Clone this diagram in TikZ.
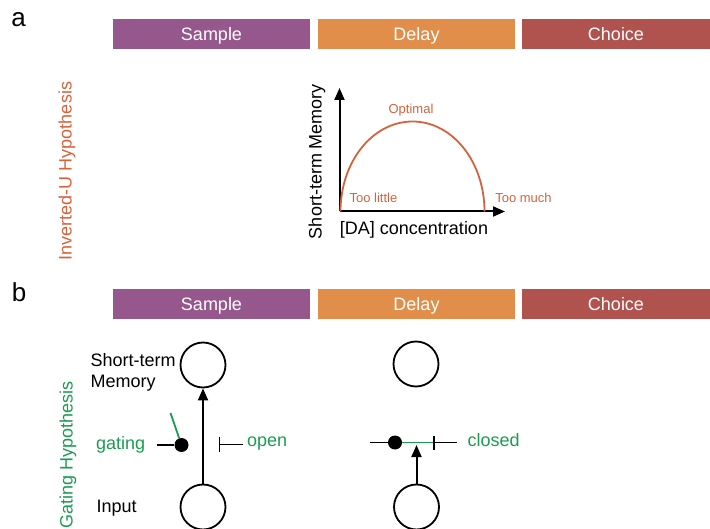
\documentclass[tikz,border=0pt]{standalone}
\usepackage{fontspec}
\setmainfont{Liberation Sans}
\usetikzlibrary{arrows.meta}
\definecolor{sampleC}{RGB}{150,88,140}
\definecolor{delayC}{RGB}{224,142,74}
\definecolor{choiceC}{RGB}{176,82,78}
\definecolor{curveC}{RGB}{214,98,60}
\definecolor{gateC}{RGB}{26,156,80}
\begin{document}
\begin{tikzpicture}[x=1pt,y=-1pt,
  phasebar/.style={fill=#1,draw=none,minimum width=197pt,minimum height=30pt,inner sep=0pt,text height=14pt,text depth=0pt,text=white,font=\fontsize{18}{20}\selectfont},
  lbl/.style={inner sep=0pt,font=\fontsize{18}{21.5}\selectfont},
  smalllbl/.style={inner sep=0pt,text=curveC,font=\fontsize{13}{15}\selectfont},
  panel/.style={inner sep=0pt,font=\fontsize{26}{28}\selectfont},
  axis/.style={line width=2pt,-{Triangle[length=12pt,width=10pt]}},
  arr/.style={line width=2pt,-{Triangle[length=12pt,width=10pt]}},
  neuron/.style={circle,draw=black,line width=1.8pt,minimum size=45pt,inner sep=0pt},
  gatedot/.style={circle,fill=black,minimum size=14pt,inner sep=0pt},
  blk/.style={line width=1.8pt},
  grn/.style={line width=1.8pt,draw=gateC}]
\useasboundingbox (0,0) rectangle (710,529);
% panel labels
\node[panel] (pa) at (18.5,19.5) {a};
\node[panel] (pb) at (19,292.5) {b};
% phase bars, row a
\node[phasebar=sampleC] (sa) at (211.5,34) {Sample};
\node[phasebar=delayC] (da) at (416.5,34) {Delay};
\node[phasebar=choiceC,minimum width=188pt] (ca) at (616,34) {Choice};
% phase bars, row b
\node[phasebar=sampleC] (sb) at (211.5,304) {Sample};
\node[phasebar=delayC] (db) at (416.5,304) {Delay};
\node[phasebar=choiceC,minimum width=188pt] (cb) at (616,304) {Choice};
% hypothesis labels
\node[lbl,text=curveC,rotate=90] (hu) at (67,171) {Inverted-U Hypothesis};
\node[lbl,text=gateC,rotate=90] (hg) at (68,455) {Gating Hypothesis};
% inverted U graph
\coordinate (O) at (339.5,211.5);
\coordinate (ytop) at (339.5,88);
\coordinate (xend) at (505,211.5);
\draw[axis] (O) -- (ytop);
\draw[axis] (O) -- (xend);
\draw[line width=1.8pt,curveC] (340.5,211.5) .. controls (340.5,161.8) and (372.5,121.5) .. (412.5,121.5)
  .. controls (452.5,121.5) and (484.5,161.8) .. (484.5,211.5);
\node[lbl,rotate=90] (ylab) at (317,161.5) {Short-term Memory};
\node[lbl] (xlab) at (414,230) {[DA] concentration};
\node[smalllbl] (opt) at (411,110.5) {Optimal};
\node[smalllbl] (tl) at (373.5,197.5) {Too little};
\node[smalllbl] (tm) at (523.5,197.5) {Too much};
% gating, sample
\node[neuron] (m1) at (203,365) {};
\node[neuron] (i1) at (203,507) {};
\draw[arr] (i1) -- (m1);
\node[lbl,align=left,anchor=west] (stm) at (90.5,372.5) {Short-term\\Memory};
\node[lbl,anchor=west] (inp) at (96.5,508) {Input};
\node[lbl,anchor=west,text=gateC] (gat) at (96,445) {gating};
\node[gatedot] (d1) at (181.5,445) {};
\coordinate (g1L) at (156.5,445);
\coordinate (g1G) at (170.5,413);
\draw[blk] (g1L) -- (d1);
\draw[grn] (d1) -- (g1G);
\coordinate (o1a) at (218.5,444.5);
\coordinate (o1b) at (243,444.5);
\draw[blk,{Bar[width=15pt]}-] (o1a) -- (o1b);
\node[lbl,anchor=west,text=gateC] (opn) at (247,443.5) {open};
% gating, delay
\node[neuron] (m2) at (416,364) {};
\node[neuron] (i2) at (416.5,507) {};
\coordinate (c2L) at (370,442.5);
\node[gatedot] (d2) at (395,442.5) {};
\coordinate (c2bar) at (432.7,442.5);
\coordinate (c2R) at (457,442.5);
\draw[blk] (c2L) -- (d2);
\draw[grn] (d2) -- (c2bar);
\draw[blk,{Bar[width=14pt]}-] (c2bar) -- (c2R);
\coordinate (g2tip) at (416.5,445);
\draw[arr] (i2) -- (g2tip);
\node[lbl,anchor=west,text=gateC] (cls) at (467.5,440) {closed};
\end{tikzpicture}
\end{document}
